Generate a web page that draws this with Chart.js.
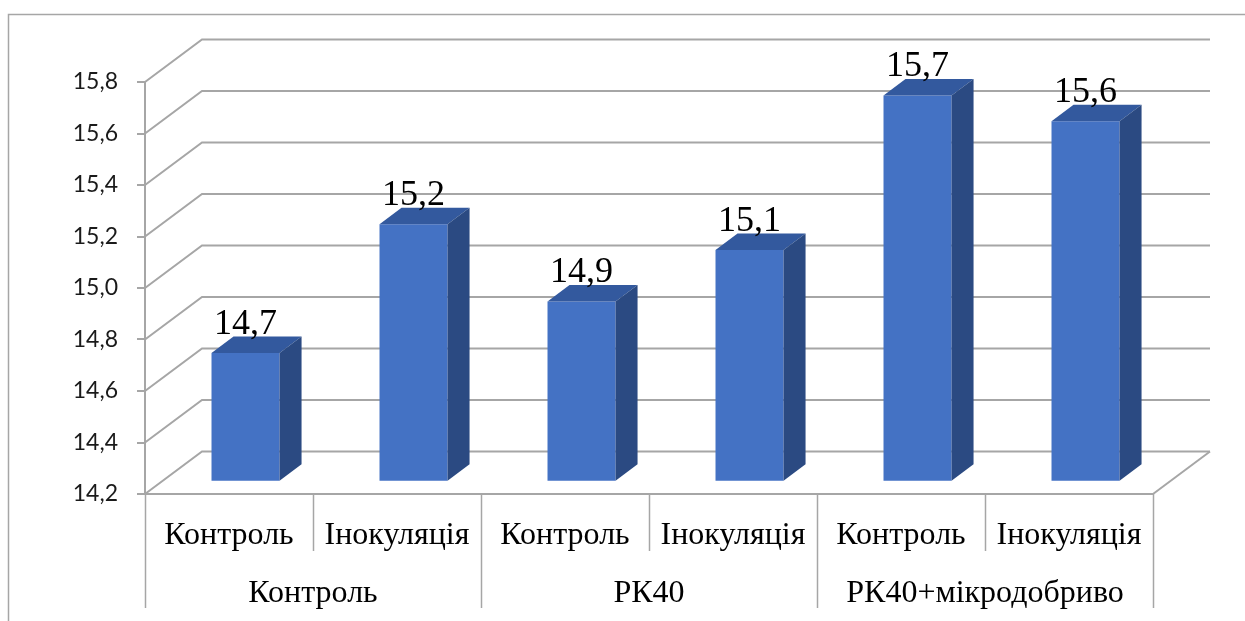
<!DOCTYPE html>
<html>
<head>
<meta charset="utf-8">
<script src="https://cdn.jsdelivr.net/npm/chart.js@4/dist/chart.umd.min.js"></script>
<style>
  html, body { margin: 0; padding: 0; background: #fff; overflow: hidden; }
  canvas { display: block; }
</style>
</head>
<body>
<canvas id="chart" width="1245" height="621"></canvas>
<script>
// Treatment groups and the sub-categories inside each group
const groups = ['Контроль', 'РК40', 'РК40+мікродобриво'];
const groupSizes = [2, 2, 2];
const categories = ['Контроль', 'Інокуляція', 'Контроль', 'Інокуляція', 'Контроль', 'Інокуляція'];

// Measured values
const values = [14.7, 15.2, 14.9, 15.1, 15.7, 15.6];

// Value axis
const yMin = 14.2;
const yMax = 15.8;
const yStep = 0.2;

const fmt = v => v.toFixed(1).replace('.', ',');

// Pseudo-3D geometry: vector from the front plane to the back wall
const DEPTH_DX = 57;
const DEPTH_DY = -42.5;
const BAR_FRONT = 0.29;   // bars stand this far into the floor
const BAR_DEPTH = 0.386;  // bar thickness as a share of the floor depth

const GRID_COLOR = '#a6a6a6';
const FRONT_COLOR = '#4472c4';
const TOP_COLOR = '#33599e';
const SIDE_COLOR = '#2b4a82';
const SERIF = '"Liberation Serif", "Times New Roman", serif';

const threeD = {
  id: 'threeD',
  beforeDraw(chart) {
    const ctx = chart.ctx;
    ctx.save();
    ctx.strokeStyle = GRID_COLOR;
    ctx.lineWidth = 1.5;
    ctx.strokeRect(8.5, 14.5, 1400, 800);
    ctx.restore();
  },
  beforeDatasetsDraw(chart) {
    const ctx = chart.ctx;
    const y = chart.scales.y;
    const area = chart.chartArea;
    ctx.save();
    ctx.strokeStyle = GRID_COLOR;
    ctx.lineWidth = 2;
    // back wall grid lines with their diagonals to the front axis
    y.ticks.forEach(t => {
      const py = y.getPixelForValue(t.value);
      ctx.beginPath();
      ctx.moveTo(area.left, py);
      ctx.lineTo(area.left + DEPTH_DX, py + DEPTH_DY);
      ctx.lineTo(area.right + DEPTH_DX, py + DEPTH_DY);
      ctx.stroke();
    });
    // right edge of the floor
    const by = y.getPixelForValue(yMin);
    ctx.beginPath();
    ctx.moveTo(area.right, by);
    ctx.lineTo(area.right + DEPTH_DX, by + DEPTH_DY);
    ctx.stroke();
    ctx.restore();
    // bar fronts are drawn slightly into the depth
    ctx.save();
    ctx.translate(DEPTH_DX * BAR_FRONT, DEPTH_DY * BAR_FRONT);
  },
  afterDatasetsDraw(chart) {
    const ctx = chart.ctx;
    ctx.restore();
    const ox = DEPTH_DX * BAR_FRONT, oy = DEPTH_DY * BAR_FRONT;
    const dx = DEPTH_DX * BAR_DEPTH, dy = DEPTH_DY * BAR_DEPTH;
    const meta = chart.getDatasetMeta(0);
    ctx.save();
    meta.data.forEach((bar, i) => {
      const p = bar.getProps(['x', 'y', 'base', 'width'], true);
      const x1 = p.x - p.width / 2 + ox;
      const x2 = p.x + p.width / 2 + ox;
      const top = p.y + oy;
      const bottom = p.base + oy;
      // top face
      ctx.fillStyle = TOP_COLOR;
      ctx.beginPath();
      ctx.moveTo(x1, top);
      ctx.lineTo(x2, top);
      ctx.lineTo(x2 + dx, top + dy);
      ctx.lineTo(x1 + dx, top + dy);
      ctx.closePath();
      ctx.fill();
      // side face
      ctx.fillStyle = SIDE_COLOR;
      ctx.beginPath();
      ctx.moveTo(x2, top);
      ctx.lineTo(x2 + dx, top + dy);
      ctx.lineTo(x2 + dx, bottom + dy);
      ctx.lineTo(x2, bottom);
      ctx.closePath();
      ctx.fill();
      // value label
      ctx.fillStyle = '#000';
      ctx.font = '36px ' + SERIF;
      ctx.textAlign = 'center';
      ctx.textBaseline = 'alphabetic';
      ctx.fillText(fmt(values[i]), p.x + ox, top + dy - 3);
    });
    ctx.restore();
  },
  afterDraw(chart) {
    const ctx = chart.ctx;
    const x = chart.scales.x;
    const area = chart.chartArea;
    const step = (area.right - area.left) / categories.length;
    const edge = idx => Math.round(area.left + idx * step) + 0.5;
    ctx.save();
    ctx.strokeStyle = GRID_COLOR;
    ctx.lineWidth = 1.5;
    // separators between sub-categories
    for (let i = 0; i <= categories.length; i++) {
      ctx.beginPath();
      ctx.moveTo(edge(i), area.bottom);
      ctx.lineTo(edge(i), area.bottom + 57);
      ctx.stroke();
    }
    // separators between groups and group captions
    ctx.fillStyle = '#000';
    ctx.font = '32px ' + SERIF;
    ctx.textAlign = 'center';
    ctx.textBaseline = 'alphabetic';
    let start = 0;
    ctx.beginPath();
    ctx.moveTo(edge(0), area.bottom + 57);
    ctx.lineTo(edge(0), area.bottom + 114);
    ctx.stroke();
    groups.forEach((g, gi) => {
      const end = start + groupSizes[gi];
      ctx.beginPath();
      ctx.moveTo(edge(end), area.bottom + 57);
      ctx.lineTo(edge(end), area.bottom + 114);
      ctx.stroke();
      const cx = (x.getPixelForValue(start) + x.getPixelForValue(end - 1)) / 2;
      ctx.fillText(g, cx, area.bottom + 108);
      start = end;
    });
    ctx.restore();
  }
};

new Chart(document.getElementById('chart'), {
  type: 'bar',
  data: {
    labels: categories,
    datasets: [{
      data: values,
      backgroundColor: FRONT_COLOR,
      borderWidth: 0,
      base: yMin,
      categoryPercentage: 1,
      barPercentage: 0.405
    }]
  },
  options: {
    responsive: false,
    animation: false,
    devicePixelRatio: 1,
    layout: { padding: { top: 82, right: 92, left: 0, bottom: 0 } },
    plugins: { legend: { display: false }, tooltip: { enabled: false } },
    scales: {
      x: {
        offset: true,
        grid: { display: true, drawOnChartArea: false, drawTicks: false },
        border: { display: true, color: GRID_COLOR, width: 2 },
        ticks: {
          autoSkip: false, maxRotation: 0, minRotation: 0,
          color: '#000', padding: 22,
          font: { family: SERIF, size: 32 }
        },
        afterFit(scale) { scale.height = 127; }
      },
      y: {
        min: yMin, max: yMax,
        grid: { drawOnChartArea: false, drawTicks: true, tickLength: 8, color: GRID_COLOR, lineWidth: 2 },
        border: { display: true, color: GRID_COLOR, width: 2 },
        ticks: {
          stepSize: yStep, padding: 19, color: '#1a1a1a',
          font: { family: 'Lato, "Liberation Sans", sans-serif', size: 23 },
          callback: v => fmt(v)
        },
        afterFit(scale) { scale.width = 145; }
      }
    }
  },
  plugins: [threeD]
});
</script>
</body>
</html>
